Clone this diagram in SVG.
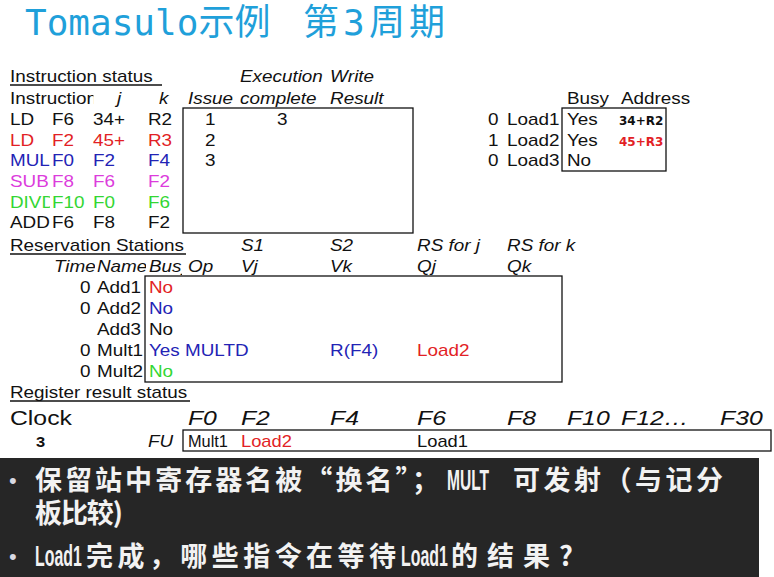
<svg xmlns="http://www.w3.org/2000/svg" width="774" height="577" viewBox="0 0 774 577">
<defs>
<style>
.t{font-family:"Liberation Sans",Arial,sans-serif;font-size:16px;fill:#111}
.i{font-style:italic}
.r{fill:#e21f26}.b{fill:#2323b5}.m{fill:#dc3cdc}.g{fill:#33d633}.k{fill:#111}
.box{fill:none;stroke:#111;stroke-width:1.3}
.ul{stroke:#111;stroke-width:1.3}
.ttl{font-family:"DejaVu Sans Mono","Noto Sans CJK SC",monospace;font-size:36px;fill:#1fa0da}
.cn{font-family:"Noto Sans CJK SC","Liberation Sans",sans-serif;font-size:27px;font-weight:bold;fill:#f2f2f2}
.la{font-family:"Liberation Sans",Arial,sans-serif;font-size:30px;font-weight:bold;fill:#f2f2f2}
.bl{font-family:"Liberation Sans",Arial,sans-serif;font-size:22px;fill:#d8d8e2}
.lb{font-family:"DejaVu Sans",sans-serif;font-size:12px;font-weight:bold}
.big{font-size:21px}
.sm{font-size:16px}
</style>
<clipPath id="cInstr"><rect x="0" y="80" width="79.2" height="30"/></clipPath>
<clipPath id="cDiv"><rect x="0" y="190" width="42.4" height="25"/></clipPath>
<clipPath id="cTime"><rect x="0" y="255" width="80.5" height="25"/></clipPath>
<clipPath id="cName"><rect x="0" y="255" width="123.7" height="25"/></clipPath>
<clipPath id="cBusy"><rect x="0" y="255" width="154.2" height="25"/></clipPath>
</defs>
<rect x="0" y="0" width="774" height="577" fill="#ffffff"/>

<g id="title">
<text class="ttl" x="25" y="35">Tomasulo示例</text>
<text class="ttl" x="303" y="35" textLength="142">第3周期</text>
</g>

<g id="instruction-status">
<rect class="box" x="183" y="108" width="230" height="125"/>
<line class="ul" x1="10" y1="85" x2="162" y2="85"/>
<g class="t" transform="scale(1.18 1)">
<text x="8.47" y="82">Instruction status</text>
<text class="i" x="203.4" y="82">Execution</text>
<text class="i" x="279.7" y="82">Write</text>
<text x="8.47" y="104" clip-path="url(#cInstr)">Instruction</text>
<text class="i" x="99.2" y="104">j</text>
<text class="i" x="134.7" y="104">k</text>
<text class="i" x="159.3" y="104">Issue</text>
<text class="i" x="203.4" y="104">complete</text>
<text class="i" x="279.7" y="104">Result</text>
<g class="k">
<text x="8.47" y="125">LD</text><text x="44.07" y="125">F6</text><text x="78.81" y="125">34+</text><text x="125.42" y="125">R2</text>
<text x="173.7" y="125">1</text><text x="234.7" y="125">3</text>
<text x="173.7" y="146">2</text>
<text x="173.7" y="166">3</text>
</g>
<g class="r">
<text x="8.47" y="146">LD</text><text x="44.07" y="146">F2</text><text x="78.81" y="146">45+</text><text x="125.42" y="146">R3</text>
</g>
<g class="b">
<text x="8.47" y="166">MUL</text><text x="44.07" y="166">F0</text><text x="78.81" y="166">F2</text><text x="125.42" y="166">F4</text>
</g>
<g class="m">
<text x="8.47" y="187">SUB</text><text x="44.07" y="187">F8</text><text x="78.81" y="187">F6</text><text x="125.42" y="187">F2</text>
</g>
<g class="g">
<text x="8.47" y="208" clip-path="url(#cDiv)">DIVD</text><text x="44.07" y="208">F10</text><text x="78.81" y="208">F0</text><text x="125.42" y="208">F6</text>
</g>
<g class="k">
<text x="8.47" y="228">ADD</text><text x="44.07" y="228">F6</text><text x="78.81" y="228">F8</text><text x="125.42" y="228">F2</text>
</g>
</g>
</g>

<g id="load-buffers">
<rect class="box" x="562" y="108" width="104" height="63"/>
<g class="t" transform="scale(1.18 1)">
<text x="480.5" y="104">Busy</text>
<text x="526.3" y="104">Address</text>
<text x="413.6" y="125">0</text><text x="429.7" y="125">Load1</text><text x="480.5" y="125">Yes</text>
<text x="413.6" y="146">1</text><text x="429.7" y="146">Load2</text><text x="480.5" y="146">Yes</text>
<text x="413.6" y="166">0</text><text x="429.7" y="166">Load3</text><text x="480.5" y="166">No</text>
</g>
<text class="lb" x="619" y="125" fill="#111">34+R2</text>
<text class="lb" x="619" y="146" fill="#e21f26">45+R3</text>
</g>

<g id="reservation-stations">
<rect class="box" x="145" y="276" width="417" height="106"/>
<line class="ul" x1="10" y1="254" x2="186" y2="254"/>
<g class="t" transform="scale(1.18 1)">
<text x="8.47" y="251">Reservation Stations</text>
<text class="i" x="204.2" y="251">S1</text>
<text class="i" x="279.7" y="251">S2</text>
<text class="i" x="353.4" y="251">RS for j</text>
<text class="i" x="429.7" y="251">RS for k</text>
<text class="i" x="45.76" y="272" clip-path="url(#cTime)">Time</text>
<text class="i" x="82.2" y="272" clip-path="url(#cName)">Name</text>
<text class="i" x="126.27" y="272" clip-path="url(#cBusy)">Busy</text>
<text class="i" x="159.3" y="272">Op</text>
<text class="i" x="204.2" y="272">Vj</text>
<text class="i" x="279.7" y="272">Vk</text>
<text class="i" x="353.4" y="272">Qj</text>
<text class="i" x="429.7" y="272">Qk</text>
<text x="67.8" y="293">0</text><text x="82.2" y="293">Add1</text><text class="r" x="126.27" y="293">No</text>
<text x="67.8" y="314">0</text><text x="82.2" y="314">Add2</text><text class="b" x="126.27" y="314">No</text>
<text x="82.2" y="335">Add3</text><text x="126.27" y="335">No</text>
<text x="67.8" y="356">0</text><text x="82.2" y="356">Mult1</text><text class="b" x="126.27" y="356">Yes MULTD</text>
<text class="b" x="279.7" y="356">R(F4)</text><text class="r" x="353.4" y="356">Load2</text>
<text x="67.8" y="377">0</text><text x="82.2" y="377">Mult2</text><text class="g" x="126.27" y="377">No</text>
</g>
</g>

<g id="register-result-status">
<rect class="box" x="183" y="430" width="588" height="21"/>
<line class="ul" x1="10" y1="401" x2="190" y2="401"/>
<g class="t" transform="scale(1.18 1)">
<text x="8.47" y="398">Register result status</text>
<text class="big" x="8.47" y="425">Clock</text>
<text class="big i" x="159.3" y="425">F0</text>
<text class="big i" x="204.2" y="425">F2</text>
<text class="big i" x="279.7" y="425">F4</text>
<text class="big i" x="353.4" y="425">F6</text>
<text class="big i" x="429.7" y="425">F8</text>
<text class="big i" x="480.5" y="425">F10</text>
<text class="big i" x="526.3" y="425">F12…</text>
<text class="big i" x="610.2" y="425">F30</text>
<text x="30.5" y="447" font-size="14" font-weight="bold">3</text>
<text class="sm i" x="125.4" y="447">FU</text>
<text class="sm" x="159.3" y="447" textLength="33.9" lengthAdjust="spacingAndGlyphs">Mult1</text>
<text class="sm r" x="204.2" y="447" textLength="43.2" lengthAdjust="spacingAndGlyphs">Load2</text>
<text class="sm" x="353.4" y="447" textLength="43.2" lengthAdjust="spacingAndGlyphs">Load1</text>
</g>
</g>

<g id="notes">
<rect x="0" y="458" width="759" height="119" fill="#262626"/>
<text class="bl" x="9" y="488">•</text>
<text class="cn" x="35" y="490" textLength="404">保留站中寄存器名被“换名”；</text>
<text class="la" transform="translate(447 490) scale(0.52 1)" x="0" y="0">MULT</text>
<text class="cn" x="513" y="490" textLength="210">可发射（与记分</text>
<text class="cn" x="35" y="523" textLength="88">板比较)</text>
<text class="bl" x="9" y="564">•</text>
<text class="la" transform="translate(35 566) scale(0.53 1)" x="0" y="0">Load1</text>
<text class="cn" x="86" y="566" textLength="310">完成，哪些指令在等待</text>
<text class="la" transform="translate(401 566) scale(0.53 1)" x="0" y="0">Load1</text>
<text class="cn" x="451" y="566" textLength="122">的结果?</text>
</g>

<g id="connectors"/>
</svg>
